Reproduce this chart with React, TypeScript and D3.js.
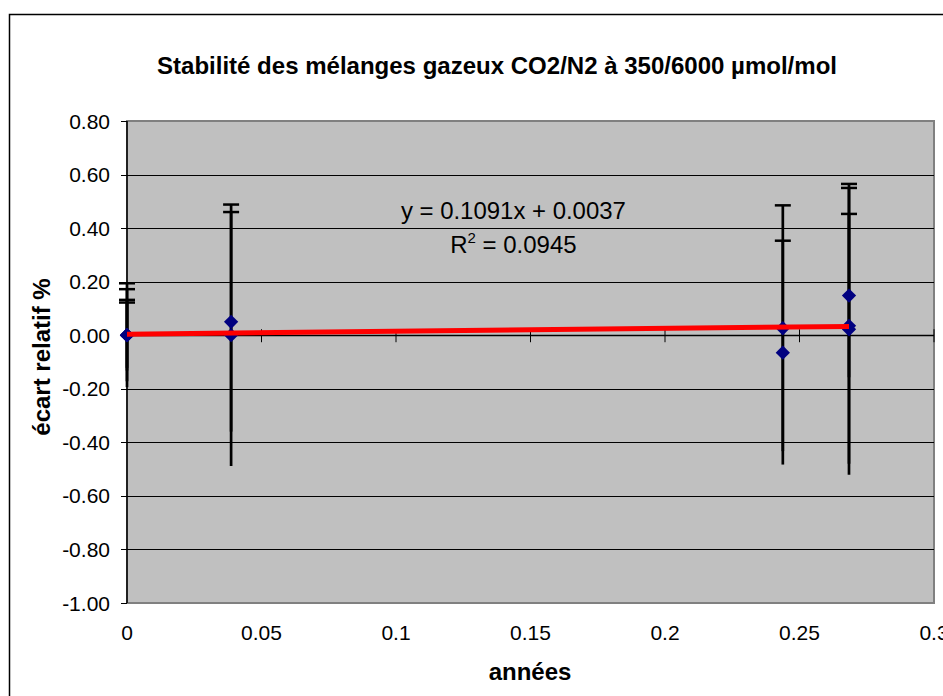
import React from "react";
import * as d3 from "d3";

const title = "Stabilité des mélanges gazeux CO2/N2 à 350/6000 µmol/mol";
const xAxisTitle = "années";
const yAxisTitle = "écart relatif %";

// measurements: x (years), y (relative deviation %), symmetric uncertainty
const pointX = [0, 0, 0, 0, 0.0387, 0.0387, 0.2438, 0.2438, 0.2684, 0.2684, 0.2684];
const pointY = [0, 0, 0, 0, 0.05, 0.0, 0.026, -0.065, 0.148, 0.035, 0.022];
const pointErr = [0.194, 0.172, 0.132, 0.122, 0.41, 0.488, 0.459, 0.418, 0.305, 0.515, 0.543];

const trendSlope = 0.1091;
const trendIntercept = 0.0037;
const trendR2 = "0.0945";

const xTicks = [0, 0.05, 0.1, 0.15, 0.2, 0.25, 0.3];
const xTickLabels = ["0", "0.05", "0.1", "0.15", "0.2", "0.25", "0.3"];
const yTicks = [0.8, 0.6, 0.4, 0.2, 0, -0.2, -0.4, -0.6, -0.8, -1.0];

const W = 943;
const H = 696;
const plot = { left: 127, right: 934, top: 121, bottom: 603 };
const FONT = "'Liberation Sans', Arial, Helvetica, sans-serif";

export default function App() {
  const x = d3.scaleLinear().domain([0, 0.3]).range([plot.left, plot.right]);
  const y = d3.scaleLinear().domain([-1, 0.8]).range([plot.bottom, plot.top]);

  const xMin = d3.min(pointX) as number;
  const xMax = d3.max(pointX) as number;
  const trend = d3
    .line<number>()
    .x((d) => x(d))
    .y((d) => y(trendSlope * d + trendIntercept));

  const diamond = d3.symbol().type(d3.symbolDiamond2).size(130)();
  const capHalf = 8;

  return (
    <svg
      width={W}
      height={H}
      style={{ position: "absolute", left: 0, top: 0, background: "#fff" }}
      fontFamily={FONT}
    >
      <rect x={0} y={0} width={W} height={H} fill="#fff" />
      {/* chart border */}
      <rect x={9.5} y={14.5} width={1000} height={800} fill="none" stroke="#000" strokeWidth={1.5} />

      <text x={497} y={74} textAnchor="middle" fontSize={24} fontWeight="bold" textLength={680} lengthAdjust="spacingAndGlyphs">
        {title}
      </text>

      {/* plot area */}
      <rect
        x={plot.left}
        y={plot.top}
        width={plot.right - plot.left}
        height={plot.bottom - plot.top}
        fill="#C0C0C0"
        stroke="#808080"
        strokeWidth={2}
      />

      {/* gridlines */}
      {yTicks
        .filter((t) => t !== 0.8 && t !== -1.0)
        .map((t) => (
          <line key={"g" + t} x1={plot.left} x2={plot.right} y1={Math.round(y(t)) + 0.5} y2={Math.round(y(t)) + 0.5} stroke="#000" strokeWidth={1} />
        ))}

      {/* y axis */}
      <line x1={plot.left} x2={plot.left} y1={plot.top} y2={plot.bottom} stroke="#000" strokeWidth={1.5} />
      {yTicks.map((t) => (
        <g key={"y" + t}>
          <line x1={plot.left - 6} x2={plot.left} y1={Math.round(y(t)) + 0.5} y2={Math.round(y(t)) + 0.5} stroke="#000" strokeWidth={1} />
          <text x={110} y={y(t) + 7.5} textAnchor="end" fontSize={21}>
            {t.toFixed(2)}
          </text>
        </g>
      ))}

      {/* x axis at y = 0 */}
      <line x1={plot.left} x2={plot.right} y1={Math.round(y(0)) + 0.5} y2={Math.round(y(0)) + 0.5} stroke="#000" strokeWidth={1.5} />
      {xTicks.map((t, i) => (
        <g key={"x" + t}>
          <line x1={x(t)} x2={x(t)} y1={y(0) - 6} y2={y(0) + 7} stroke="#000" strokeWidth={1} />
          <text x={x(t)} y={640} textAnchor="middle" fontSize={21}>
            {xTickLabels[i]}
          </text>
        </g>
      ))}

      {/* error bars */}
      {pointX.map((px, i) => {
        const cx = x(px);
        const top = y(pointY[i] + pointErr[i]);
        const bot = y(pointY[i] - pointErr[i]);
        return (
          <g key={"e" + i}>
            <line x1={cx} x2={cx} y1={top} y2={bot} stroke="#000" strokeWidth={2.7} />
            <line x1={cx - capHalf} x2={cx + capHalf} y1={top} y2={top} stroke="#000" strokeWidth={2.5} />
          </g>
        );
      })}

      {/* points */}
      {pointX.map((px, i) => (
        <path key={"p" + i} d={diamond as string} transform={`translate(${x(px)},${y(pointY[i])})`} fill="#000080" />
      ))}

      {/* trend line */}
      <path d={trend([xMin, xMax]) as string} fill="none" stroke="#FF0000" strokeWidth={5} />

      {/* trend equation */}
      <text x={513.4} y={219} textAnchor="middle" fontSize={24} textLength={225} lengthAdjust="spacingAndGlyphs">
        {`y = ${trendSlope}x + ${trendIntercept}`}
      </text>
      <text x={513.4} y={253} textAnchor="middle" fontSize={24}>
        R<tspan fontSize={15} dy={-10}>2</tspan>
        <tspan dy={10}>{` = ${trendR2}`}</tspan>
      </text>

      {/* axis titles */}
      <text x={530} y={680} textAnchor="middle" fontSize={24} fontWeight="bold">
        {xAxisTitle}
      </text>
      <text transform={`translate(50,${(plot.top + plot.bottom) / 2 - 5}) rotate(-90)`} textAnchor="middle" fontSize={24} fontWeight="bold">
        {yAxisTitle}
      </text>
    </svg>
  );
}
